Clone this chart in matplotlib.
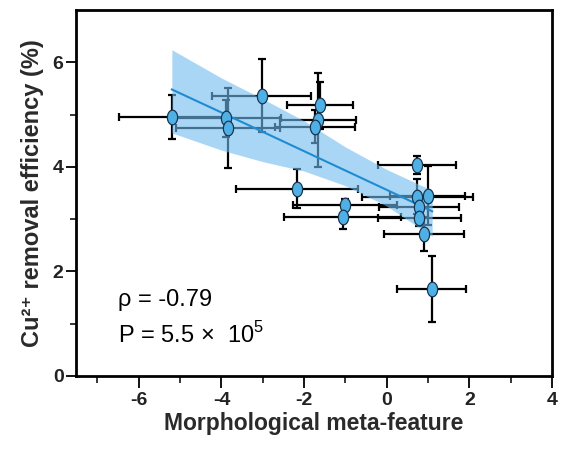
import matplotlib
matplotlib.use("Agg")
import matplotlib.pyplot as plt
import matplotlib.path as mpath
import numpy as np

plt.rcParams["font.family"] = ["Liberation Sans", "DejaVu Sans"]
plt.rcParams["mathtext.fontset"] = "custom"
plt.rcParams["mathtext.rm"] = "Liberation Sans"
plt.rcParams["mathtext.bf"] = "Liberation Sans:bold"
plt.rcParams["axes.unicode_minus"] = False

# points
feat = [-5.20, -3.89, -3.84, -3.03, -1.62, -1.66, -1.74, -2.17, -1.01, -1.07,
        0.73, 0.74, 0.99, 0.79, 0.79, 0.91, 1.09]
eff = [4.96, 4.93, 4.74, 5.36, 5.18, 4.90, 4.77, 3.58, 3.28, 3.04,
       4.04, 3.43, 3.45, 3.24, 3.02, 2.72, 1.67]
feat_err = [1.27, 1.33, 1.25, 1.19, 0.80, 0.92, 0.97, 1.48, 1.27, 1.42,
            0.95, 1.35, 0.90, 0.97, 1.00, 0.97, 0.84]
eff_err = [0.42, 0.35, 0.76, 0.70, 0.45, 0.90, 0.32, 0.37, 0.10, 0.23,
           0.17, 0.33, 0.57, 0.15, 0.15, 0.32, 0.63]

# fitted line and confidence band
fit_x = [-5.2, -4.0, -3.0, -2.0, -1.0, 0.0, 1.1]
fit_y = [5.48, 5.04, 4.67, 4.30, 3.93, 3.56, 3.15]
band_hi = [6.24, 5.70, 5.30, 4.88, 4.38, 3.95, 3.55]
band_lo = [4.65, 4.32, 4.10, 3.92, 3.64, 3.25, 2.67]

fig = plt.figure(figsize=(5.61, 4.5), dpi=100)
ax = fig.add_axes([76 / 561, 74 / 450, 476 / 561, 366 / 450])

ax.errorbar(feat, eff, xerr=feat_err, yerr=eff_err, fmt="none", ecolor="black",
            elinewidth=1.6, capsize=3, capthick=1.6, zorder=2)
ax.fill_between(fit_x, band_lo, band_hi, color="#71bcee", alpha=0.6,
                linewidth=0, zorder=3)
ax.plot(fit_x, fit_y, color="#1e8cd2", lw=1.5, zorder=3.5)

t = np.linspace(0, 2 * np.pi, 60)
ellipse = mpath.Path(np.column_stack([0.7 * np.cos(t), np.sin(t)]))
ax.plot(feat, eff, linestyle="none", marker=ellipse, markersize=10.5,
        markerfacecolor="#4fb0e6", markeredgecolor="#1a3550",
        markeredgewidth=0.9, zorder=4)

ax.set_xlim(-7.52, 4.0)
ax.set_ylim(0, 7)
ax.set_xticks([-6, -4, -2, 0, 2, 4])
ax.set_xticks(np.arange(-7, 4, 2), minor=True)
ax.set_yticks([0, 2, 4, 6])
ax.set_yticks([1, 3, 5], minor=True)
ax.tick_params(which="major", direction="out", length=8.5, width=1.3,
               labelsize=14, pad=3)
ax.tick_params(which="minor", direction="out", length=5, width=1.1)
ax.tick_params(axis="y", which="major", length=7.5, pad=1.5)
ax.tick_params(axis="y", which="minor", length=4)
for lab in ax.get_xticklabels() + ax.get_yticklabels():
    lab.set_fontweight("bold")
    lab.set_color("#222222")
for s in ax.spines.values():
    s.set_linewidth(2)

ax.set_xlabel("Morphological meta-feature", fontsize=16.5, fontweight="bold",
              color="#2a2a2a", labelpad=2)
ax.set_ylabel("Cu²⁺ removal efficiency (%)", fontsize=17,
              fontweight="bold", color="#2a2a2a", labelpad=6)

ax.text(-6.5, 1.45, "ρ = -0.79", fontsize=17, va="center", ha="left")
ax.text(-6.5, 0.78, r"P = 5.5 $\times$  10$^{5}$", fontsize=17, va="center",
        ha="left")

fig.savefig("out.png", dpi=100)
